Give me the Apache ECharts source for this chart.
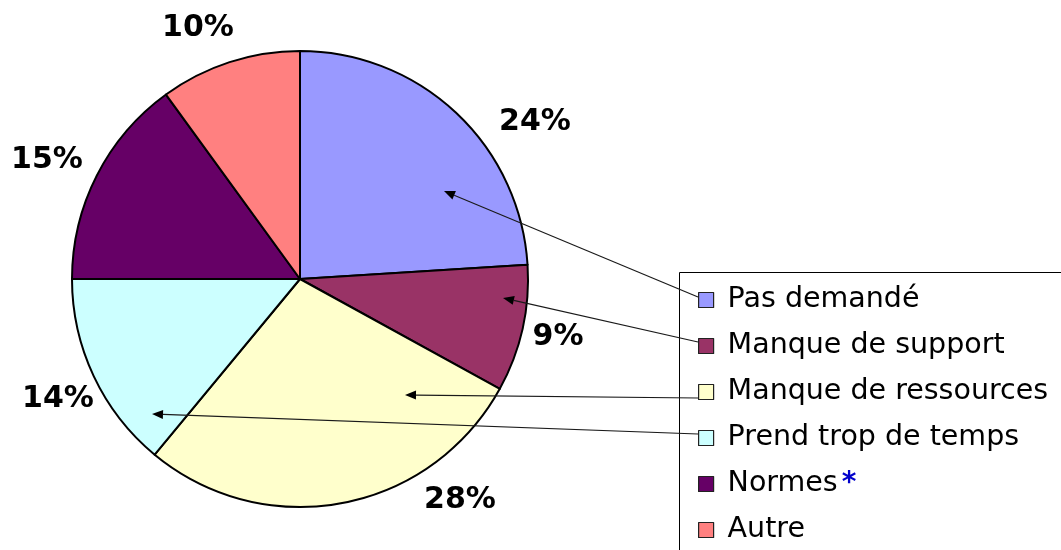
<!DOCTYPE html>
<html>
<head>
<meta charset="utf-8">
<style>
  html, body { margin: 0; padding: 0; background: #ffffff; }
  #chart { width: 1061px; height: 550px; }
</style>
<script src="https://cdn.jsdelivr.net/npm/echarts@6/dist/echarts.min.js"></script>
</head>
<body>
<div id="chart"></div>
<script>
// Reasons, in clockwise order from twelve o'clock
const categories = ['Pas demandé', 'Manque de support', 'Manque de ressources', 'Prend trop de temps', 'Normes', 'Autre'];
const shares = [24, 9, 28, 14, 15, 10];
const sliceColors = ['#9999FF', '#993366', '#FFFFCC', '#CCFFFF', '#660066', '#FF8080'];

// Where each percentage label sits (pixel centres)
const labelSpots = [[535, 122], [558, 337], [460, 500], [58, 399], [47, 160], [198, 28]];

// Leader arrows: from a legend swatch to a point inside its slice
const arrows = [
  { from: [698, 297], to: [444, 191] },
  { from: [698, 342], to: [503, 298] },
  { from: [698, 398], to: [405, 395] },
  { from: [698, 434], to: [152, 414] }
];

function arrowGraphics(a) {
  const [x1, y1] = a.from, [x2, y2] = a.to;
  const ang = Math.atan2(y2 - y1, x2 - x1);
  const len = 11, half = 4.5;
  const bx = x2 - len * Math.cos(ang), by = y2 - len * Math.sin(ang);
  const nx = -Math.sin(ang), ny = Math.cos(ang);
  return [
    { type: 'line', z: 100, shape: { x1: x1, y1: y1, x2: bx, y2: by },
      style: { stroke: '#1a1a1a', lineWidth: 1.2 } },
    { type: 'polygon', z: 100,
      shape: { points: [[x2, y2], [bx + nx * half, by + ny * half], [bx - nx * half, by - ny * half]] },
      style: { fill: '#000000' } }
  ];
}

const chart = echarts.init(document.getElementById('chart'), null, { renderer: 'canvas' });

const graphics = [
  { type: 'rect', z: 0, shape: { x: 679.5, y: 272.5, width: 420, height: 320 },
    style: { fill: '#ffffff', stroke: '#000000', lineWidth: 1 } }
];
arrows.forEach(a => graphics.push(...arrowGraphics(a)));

chart.setOption({
  backgroundColor: '#ffffff',
  animation: false,
  color: sliceColors,
  graphic: graphics,
  legend: {
    orient: 'vertical',
    left: 698,
    top: 285,
    padding: 0,
    itemWidth: 15,
    itemHeight: 15,
    itemGap: 16,
    icon: 'rect',
    data: categories,
    itemStyle: { borderColor: '#222222', borderWidth: 1.2 },
    textStyle: {
      fontFamily: 'DejaVu Sans',
      fontSize: 28.5,
      color: '#000000',
      lineHeight: 30,
      padding: [0, 0, 0, 9],
      rich: {
        star: { color: '#0000CC', fontWeight: 'bold', fontSize: 28, fontFamily: 'DejaVu Sans', padding: [0, 0, 0, 4] }
      }
    },
    formatter: function (name) {
      return name === 'Normes' ? 'Normes{star|*}' : name;
    }
  },
  series: [{
    type: 'pie',
    center: [300, 279],
    radius: 228,
    startAngle: 90,
    clockwise: true,
    avoidLabelOverlap: false,
    itemStyle: { borderColor: '#000000', borderWidth: 2 },
    emphasis: { disabled: true },
    label: {
      show: true,
      position: 'outside',
      formatter: '{c}%',
      fontFamily: 'DejaVu Sans',
      fontWeight: 'bold',
      fontSize: 30,
      color: '#000000'
    },
    labelLine: { show: false },
    labelLayout: function (params) {
      const p = labelSpots[params.dataIndex];
      return { x: p[0], y: p[1], align: 'center', verticalAlign: 'middle' };
    },
    data: categories.map((name, i) => ({ name: name, value: shares[i] }))
  }]
});
</script>
</body>
</html>
